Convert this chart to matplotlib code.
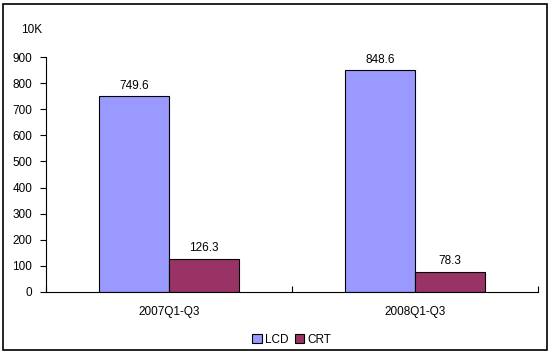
import matplotlib
matplotlib.use("Agg")
import matplotlib.pyplot as plt
from matplotlib.patches import Rectangle
import numpy as np

categories = ["2007Q1-Q3", "2008Q1-Q3"]
series_names = ["LCD", "CRT"]
lcd_values = [749.6, 848.6]
crt_values = [126.3, 78.3]
y_ticks = [0, 100, 200, 300, 400, 500, 600, 700, 800, 900]

LCD_CLR = "#9999FF"
CRT_CLR = "#993366"

plt.rcParams["font.family"] = ["Liberation Sans", "DejaVu Sans"]
plt.rcParams["font.size"] = 8.5

fig = plt.figure(figsize=(5.5, 3.54), dpi=100)
fig.patch.set_facecolor("white")
ax = fig.add_axes([46 / 550, 62 / 354, 492 / 550, 235 / 354])

x = np.arange(len(categories))
w = 0.285
b1 = ax.bar(x - w / 2, lcd_values, w, color=LCD_CLR, edgecolor="black", lw=0.8, label=series_names[0])
b2 = ax.bar(x + w / 2, crt_values, w, color=CRT_CLR, edgecolor="black", lw=0.8, label=series_names[1])
for bars in (b1, b2):
    for r in bars:
        ax.text(r.get_x() + r.get_width() / 2, r.get_height() + 18, f"{r.get_height():.1f}",
                ha="center", va="bottom", fontsize=8.5)

ax.set_xlim(-0.5, 1.5)
ax.set_ylim(0, 900)
ax.set_yticks(y_ticks)
ax.tick_params(axis="y", direction="out", length=4, width=0.8, pad=6)
ax.set_xticks([-0.5, 0.5, 1.5])
ax.set_xticklabels([])
ax.set_xticks(x, minor=True)
ax.set_xticklabels(categories, minor=True)
ax.tick_params(axis="x", which="major", direction="in", length=4, width=0.8)
ax.tick_params(axis="x", which="minor", length=0, pad=10)
for s in ("top", "right"):
    ax.spines[s].set_visible(False)
for s in ("left", "bottom"):
    ax.spines[s].set_linewidth(0.8)

fig.text(32 / 550, 1 - 30 / 354, "10K", ha="center", va="center", fontsize=8.5)

ax.legend(loc="center", bbox_to_anchor=(0.5, -22 / 354 * 354 / 235 * 0 - 48 / 235),
          ncol=2, frameon=False, handlelength=0.8, handleheight=0.8,
          handletextpad=0.3, columnspacing=0.5, fontsize=8.5)

fig.add_artist(Rectangle((3 / 550, 4 / 354), 544 / 550, 346 / 354, transform=fig.transFigure,
                         fill=False, edgecolor="black", lw=1.2))

fig.savefig("out.png", dpi=100, facecolor="white")
